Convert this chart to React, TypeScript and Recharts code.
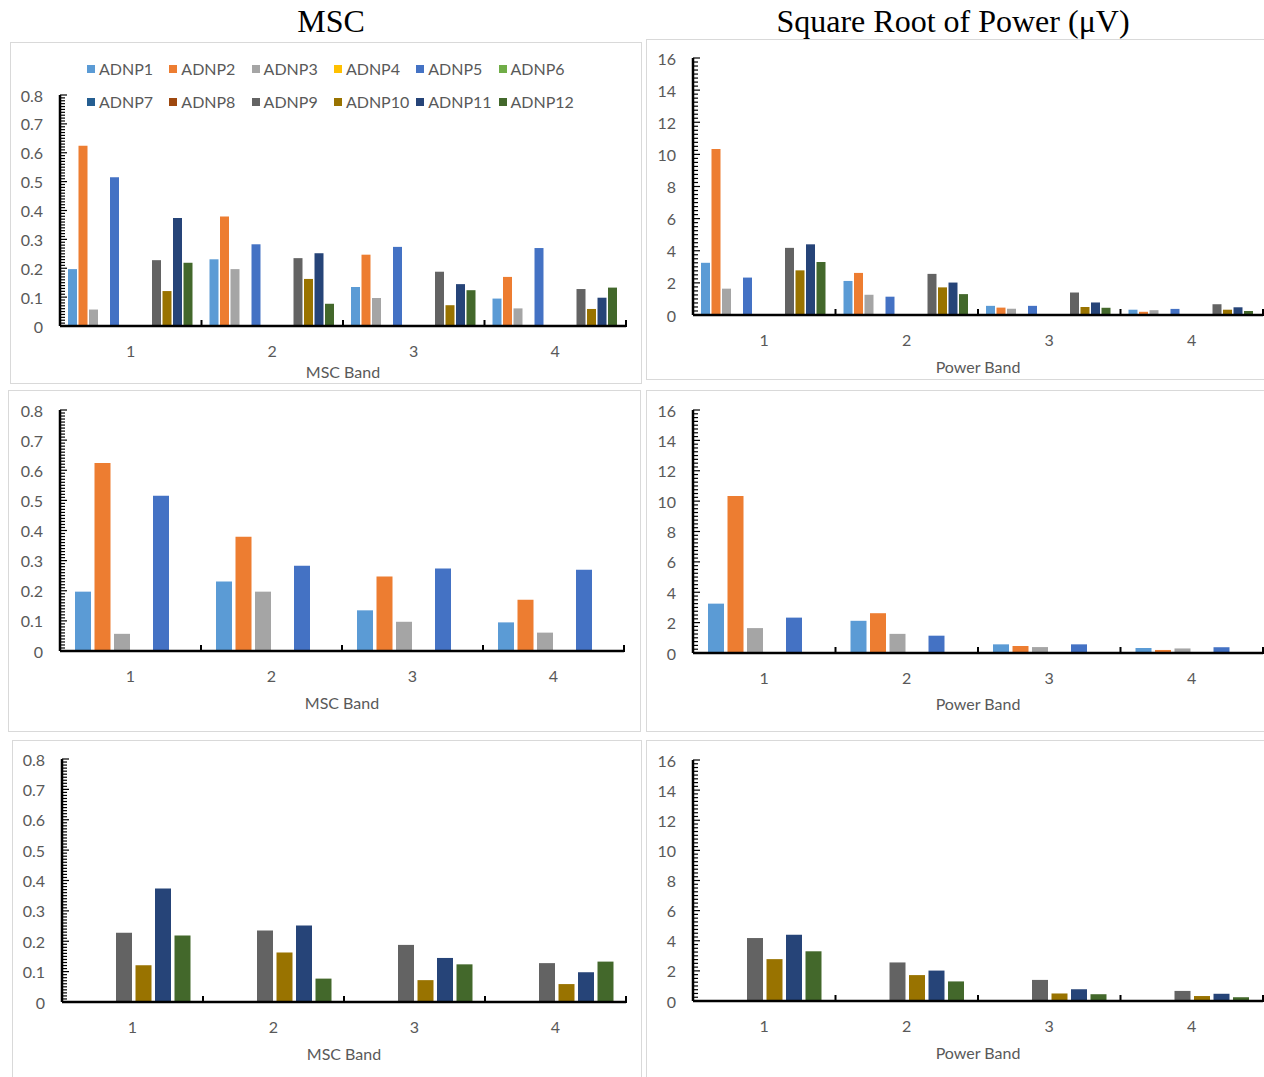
import { BarChart, Bar, XAxis, YAxis, Legend, Label } from "recharts";

const bands = ["1", "2", "3", "4"];

const seriesNames = [
  "ADNP1", "ADNP2", "ADNP3", "ADNP4", "ADNP5", "ADNP6",
  "ADNP7", "ADNP8", "ADNP9", "ADNP10", "ADNP11", "ADNP12",
];

const seriesColors = [
  "#5B9BD5", "#ED7D31", "#A5A5A5", "#FFC000", "#4472C4", "#70AD47",
  "#255E91", "#9E480E", "#636363", "#997300", "#264478", "#43682B",
];

// MSC per band
const mscADNP1 = [0.197, 0.231, 0.135, 0.095];
const mscADNP2 = [0.624, 0.379, 0.247, 0.17];
const mscADNP3 = [0.057, 0.197, 0.097, 0.061];
const mscADNP4 = [0, 0, 0, 0];
const mscADNP5 = [0.515, 0.283, 0.274, 0.27];
const mscADNP6 = [0, 0, 0, 0];
const mscADNP7 = [0, 0, 0, 0];
const mscADNP8 = [0, 0, 0, 0];
const mscADNP9 = [0.228, 0.235, 0.188, 0.128];
const mscADNP10 = [0.121, 0.163, 0.072, 0.059];
const mscADNP11 = [0.374, 0.252, 0.145, 0.098];
const mscADNP12 = [0.219, 0.077, 0.124, 0.133];

// square root of power per band (uV)
const powADNP1 = [3.25, 2.12, 0.57, 0.33];
const powADNP2 = [10.33, 2.62, 0.46, 0.2];
const powADNP3 = [1.64, 1.26, 0.39, 0.3];
const powADNP4 = [0, 0, 0, 0];
const powADNP5 = [2.33, 1.14, 0.57, 0.38];
const powADNP6 = [0, 0, 0, 0];
const powADNP7 = [0, 0, 0, 0];
const powADNP8 = [0, 0, 0, 0];
const powADNP9 = [4.18, 2.56, 1.4, 0.67];
const powADNP10 = [2.78, 1.72, 0.5, 0.33];
const powADNP11 = [4.4, 2.02, 0.78, 0.48];
const powADNP12 = [3.3, 1.3, 0.45, 0.25];

const mscSeries = [
  mscADNP1, mscADNP2, mscADNP3, mscADNP4, mscADNP5, mscADNP6,
  mscADNP7, mscADNP8, mscADNP9, mscADNP10, mscADNP11, mscADNP12,
];
const powSeries = [
  powADNP1, powADNP2, powADNP3, powADNP4, powADNP5, powADNP6,
  powADNP7, powADNP8, powADNP9, powADNP10, powADNP11, powADNP12,
];

const buildRows = (series: number[][]) =>
  bands.map((band, i) => {
    const row: Record<string, string | number> = { band };
    seriesNames.forEach((name, s) => {
      row[name] = series[s][i];
    });
    return row;
  });

const mscRows = buildRows(mscSeries);
const powRows = buildRows(powSeries);

// axis ticks: minor marks every 0.01 / 0.25, labelled every 0.1 / 2
const mscTicks = Array.from({ length: 81 }, (_, i) => i / 100);
const powTicks = Array.from({ length: 65 }, (_, i) => i / 4);

const allSeries = [0, 1, 2, 3, 4, 5, 6, 7, 8, 9, 10, 11];
const firstHalf = [0, 1, 2, 3, 4, 5];
const secondHalf = [6, 7, 8, 9, 10, 11];

const FONT = "Lato, 'Open Sans', sans-serif";
const GREY = "#595959";

function LegendGrid() {
  return (
    <div style={{ position: "relative", width: 600, height: 80 }}>
      {seriesNames.map((name, i) => (
        <div
          key={name}
          style={{
            position: "absolute",
            left: 76 + (i % 6) * 82.3,
            top: i < 6 ? 17 : 50,
            display: "flex",
            alignItems: "center",
            whiteSpace: "nowrap",
            fontFamily: FONT,
            fontSize: 16,
            color: GREY,
            lineHeight: "18px",
          }}
        >
          <span
            style={{
              display: "inline-block",
              width: 8,
              height: 8,
              background: seriesColors[i],
              marginRight: 4,
            }}
          />
          {name}
        </div>
      ))}
    </div>
  );
}

type PanelProps = {
  box: { x: number; y: number; w: number; h: number };
  plot: { left: number; right: number; top: number; bottom: number };
  data: Record<string, string | number>[];
  keys: number[];
  yMax: number;
  ticks: number[];
  majorStep: number;
  axisTitle: string;
  titleOffset: number;
  catGap: number;
  barGap: number;
  legend?: boolean;
};

function Panel({
  box, plot, data, keys, yMax, ticks, majorStep, axisTitle,
  titleOffset, catGap, barGap, legend,
}: PanelProps) {
  const band = (plot.right - plot.left) / bands.length;
  const isMajor = (v: number) =>
    Math.abs(v / majorStep - Math.round(v / majorStep)) < 1e-6;

  // inside tick marks on the value axis, longer at the labelled values
  const YTick = (props: any) => {
    const { x, y, payload } = props;
    const major = isMajor(payload.value);
    return (
      <g>
        <line x1={x} y1={y} x2={x + (major ? 7 : 5)} y2={y} stroke="#000" strokeWidth={1.2} />
        {major && (
          <text
            x={x - 17}
            y={y}
            textAnchor="end"
            dominantBaseline="central"
            fill={GREY}
            fontSize={16}
            fontFamily={FONT}
          >
            {String(payload.value)}
          </text>
        )}
      </g>
    );
  };

  // category label at the centre, tick mark on the band's right edge
  const XTick = (props: any) => {
    const { x, y, payload } = props;
    const edge = x + band / 2;
    return (
      <g>
        <line x1={edge} y1={y - 6} x2={edge} y2={y + 1} stroke="#000" strokeWidth={2} />
        <text
          x={x}
          y={y + 24}
          textAnchor="middle"
          dominantBaseline="central"
          fill={GREY}
          fontSize={16}
          fontFamily={FONT}
        >
          {payload.value}
        </text>
      </g>
    );
  };

  return (
    <div
      style={{
        position: "absolute",
        left: box.x,
        top: box.y,
        width: box.w,
        height: box.h,
        border: "1px solid #d9d9d9",
        boxSizing: "border-box",
      }}
    >
      <BarChart
        width={box.w - 2}
        height={box.h - 2}
        data={data}
        margin={{
          left: plot.left - box.x - 1 - 1,
          right: box.x + box.w - 1 - plot.right,
          top: plot.top - box.y - 1,
          bottom: box.y + box.h - 1 - plot.bottom - 1,
        }}
        barCategoryGap={catGap}
        barGap={barGap}
      >
        <XAxis
          dataKey="band"
          height={1}
          tickSize={0}
          tickMargin={0}
          tickLine={false}
          axisLine={{ stroke: "#000", strokeWidth: 2.5 }}
          tick={XTick}
          interval={0}
        >
          <Label
            value={axisTitle}
            position="bottom"
            offset={titleOffset}
            fill={GREY}
            fontSize={16}
            fontFamily={FONT}
          />
        </XAxis>
        <YAxis
          type="number"
          domain={[0, yMax]}
          ticks={ticks}
          interval={0}
          width={1}
          tickSize={0}
          tickMargin={0}
          tickLine={false}
          axisLine={{ stroke: "#000", strokeWidth: 2.5 }}
          tick={YTick}
        />
        {legend && (
          <Legend
            layout="horizontal"
            verticalAlign="middle"
            align="center"
            wrapperStyle={{ left: 0, top: 0, width: 600, height: 80 }}
            content={() => <LegendGrid />}
          />
        )}
        {keys.map((k) => (
          <Bar
            key={seriesNames[k]}
            dataKey={seriesNames[k]}
            fill={seriesColors[k]}
            isAnimationActive={false}
          />
        ))}
      </BarChart>
    </div>
  );
}

export default function App() {
  const titleStyle = {
    position: "absolute" as const,
    top: 3,
    width: 500,
    textAlign: "center" as const,
    fontFamily: "'Liberation Serif', 'Times New Roman', serif",
    fontSize: 32,
    lineHeight: "36px",
    color: "#000",
  };
  return (
    <div
      style={{
        position: "absolute",
        left: 0,
        top: 0,
        width: 1264,
        height: 1077,
        overflow: "hidden",
        background: "#fff",
      }}
    >
      <div style={{ ...titleStyle, left: 81 }}>MSC</div>
      <div style={{ ...titleStyle, left: 703 }}>Square Root of Power (μV)</div>

      <Panel
        box={{ x: 10, y: 42, w: 632, h: 342 }}
        plot={{ left: 60, right: 626, top: 95, bottom: 326 }}
        data={mscRows}
        keys={allSeries}
        yMax={0.8}
        ticks={mscTicks}
        majorStep={0.1}
        axisTitle="MSC Band"
        titleOffset={40}
        catGap={8}
        barGap={1.5}
        legend
      />
      <Panel
        box={{ x: 646, y: 39, w: 622, h: 341 }}
        plot={{ left: 693, right: 1263, top: 58, bottom: 315 }}
        data={powRows}
        keys={allSeries}
        yMax={16}
        ticks={powTicks}
        majorStep={2}
        axisTitle="Power Band"
        titleOffset={46}
        catGap={8}
        barGap={1.5}
      />
      <Panel
        box={{ x: 8, y: 390, w: 633, h: 342 }}
        plot={{ left: 60, right: 624, top: 410, bottom: 651 }}
        data={mscRows}
        keys={firstHalf}
        yMax={0.8}
        ticks={mscTicks}
        majorStep={0.1}
        axisTitle="MSC Band"
        titleOffset={46}
        catGap={15}
        barGap={3.5}
      />
      <Panel
        box={{ x: 646, y: 390, w: 622, h: 342 }}
        plot={{ left: 693, right: 1263, top: 410, bottom: 653 }}
        data={powRows}
        keys={firstHalf}
        yMax={16}
        ticks={powTicks}
        majorStep={2}
        axisTitle="Power Band"
        titleOffset={45}
        catGap={15}
        barGap={3.5}
      />
      <Panel
        box={{ x: 12, y: 740, w: 630, h: 345 }}
        plot={{ left: 62, right: 626, top: 759, bottom: 1002 }}
        data={mscRows}
        keys={secondHalf}
        yMax={0.8}
        ticks={mscTicks}
        majorStep={0.1}
        axisTitle="MSC Band"
        titleOffset={46}
        catGap={15}
        barGap={3.5}
      />
      <Panel
        box={{ x: 646, y: 740, w: 622, h: 345 }}
        plot={{ left: 693, right: 1263, top: 760, bottom: 1001 }}
        data={powRows}
        keys={secondHalf}
        yMax={16}
        ticks={powTicks}
        majorStep={2}
        axisTitle="Power Band"
        titleOffset={46}
        catGap={15}
        barGap={3.5}
      />
    </div>
  );
}
